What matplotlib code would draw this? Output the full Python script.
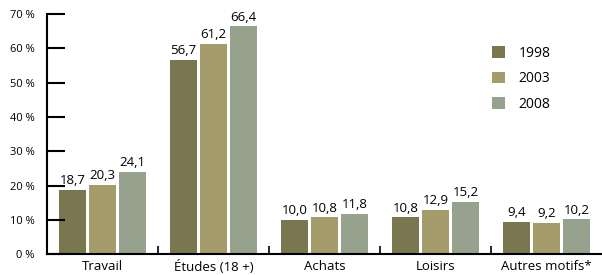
import matplotlib.pyplot as plt
import numpy as np

plt.rcParams['font.family'] = ['Open Sans', 'DejaVu Sans']

categories = ['Travail', 'Études (18 +)', 'Achats', 'Loisirs', 'Autres motifs*']
years = ['1998', '2003', '2008']
v1998 = [18.7, 56.7, 10.0, 10.8, 9.4]
v2003 = [20.3, 61.2, 10.8, 12.9, 9.2]
v2008 = [24.1, 66.4, 11.8, 15.2, 10.2]
colors = ['#7a7650', '#a49d6b', '#97a28e']

fig = plt.figure(figsize=(6.02, 2.75), dpi=100)
ax = fig.add_axes([0.078, 0.075, 0.922, 0.874])

x = np.arange(len(categories))
w = 0.243
off = 0.27
for k, vals in enumerate([v1998, v2003, v2008]):
    bars = ax.bar(x + (k - 1) * off, vals, w, color=colors[k], label=years[k])
    for b, v in zip(bars, vals):
        ax.text(b.get_x() + b.get_width() / 2, v + 0.8, f'{v:.1f}'.replace('.', ','),
                ha='center', va='bottom', fontsize=9.5)

ax.set_xlim(-0.5, 4.5)
ax.set_ylim(0, 70)
ax.set_yticks(range(0, 71, 10))
ax.set_yticklabels([f'{t} %' for t in range(0, 71, 10)], fontsize=8, fontweight='medium')
ax.tick_params(axis='y', direction='in', length=13, width=1.5, pad=9)
ax.set_xticks(x)
ax.set_xticklabels(categories, fontsize=9.5)
ax.tick_params(axis='x', length=0, pad=4)
ax.set_xticks(np.arange(0.5, 4.5, 1), minor=True)
ax.tick_params(axis='x', which='minor', direction='in', length=6, width=1.2)

for s in ['top', 'right']:
    ax.spines[s].set_visible(False)
ax.spines['left'].set_linewidth(1.5)
ax.spines['bottom'].set_linewidth(1.5)

ax.legend(loc='upper left', bbox_to_anchor=(0.78, 0.92), frameon=False, fontsize=10,
          handlelength=0.9, handleheight=0.9, labelspacing=0.75, handletextpad=1.0)

fig.savefig('out.png', dpi=100)
